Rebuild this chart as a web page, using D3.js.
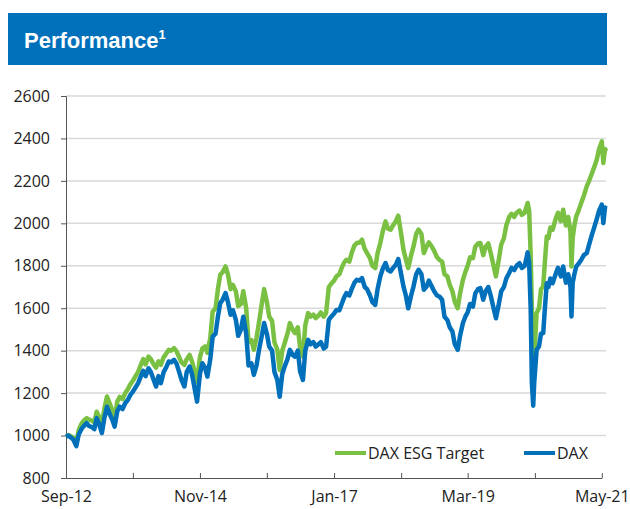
<!DOCTYPE html>
<html><head><meta charset="utf-8">
<script src="https://cdn.jsdelivr.net/npm/d3@7"></script>
<style>html,body{margin:0;padding:0;background:#fff;}svg{display:block;}</style>
</head><body>
<svg id="c" width="630" height="509"></svg>
<script>
const dates = ["2012-09-01","2012-09-15","2012-10-01","2012-10-15","2012-11-01","2012-11-15","2012-12-01","2012-12-15",
"2013-01-01","2013-01-15","2013-02-01","2013-02-15","2013-03-01","2013-03-15","2013-04-01","2013-04-15","2013-05-01","2013-05-15","2013-06-01","2013-06-15","2013-07-01","2013-07-15","2013-08-01","2013-08-15","2013-09-01","2013-09-15","2013-10-01","2013-10-15","2013-11-01","2013-11-15","2013-12-01","2013-12-15",
"2014-01-01","2014-01-15","2014-02-01","2014-02-15","2014-03-01","2014-03-15","2014-04-01","2014-04-15","2014-05-01","2014-05-15","2014-06-01","2014-06-15","2014-07-01","2014-07-15","2014-08-01","2014-08-15","2014-09-01","2014-09-15","2014-10-01","2014-10-15","2014-11-01","2014-11-15","2014-12-01","2014-12-15",
"2015-01-01","2015-01-15","2015-02-01","2015-02-15","2015-03-01","2015-03-15","2015-04-01","2015-04-15","2015-05-01","2015-05-15","2015-06-01","2015-06-15","2015-07-01","2015-07-15","2015-08-01","2015-08-15","2015-09-01","2015-09-15","2015-10-01","2015-10-15","2015-11-01","2015-11-15","2015-12-01","2015-12-15",
"2016-01-01","2016-01-15","2016-02-01","2016-02-15","2016-03-01","2016-03-15","2016-04-01","2016-04-15","2016-05-01","2016-05-15","2016-06-01","2016-06-15","2016-07-01","2016-07-15","2016-08-01","2016-08-15","2016-09-01","2016-09-15","2016-10-01","2016-10-15","2016-11-01","2016-11-15","2016-12-01","2016-12-15",
"2017-01-01","2017-01-15","2017-02-01","2017-02-15","2017-03-01","2017-03-15","2017-04-01","2017-04-15","2017-05-01","2017-05-15","2017-06-01","2017-06-15","2017-07-01","2017-07-15","2017-08-01","2017-08-15","2017-09-01","2017-09-15","2017-10-01","2017-10-15","2017-11-01","2017-11-15","2017-12-01","2017-12-15",
"2018-01-01","2018-01-15","2018-02-01","2018-02-15","2018-03-01","2018-03-15","2018-04-01","2018-04-15","2018-05-01","2018-05-15","2018-06-01","2018-06-15","2018-07-01","2018-07-15","2018-08-01","2018-08-15","2018-09-01","2018-09-15","2018-10-01","2018-10-15","2018-11-01","2018-11-15","2018-12-01","2018-12-15",
"2019-01-01","2019-01-15","2019-02-01","2019-02-15","2019-03-01","2019-03-15","2019-04-01","2019-04-15","2019-05-01","2019-05-15","2019-06-01","2019-06-15","2019-07-01","2019-07-15","2019-08-01","2019-08-15","2019-09-01","2019-09-15","2019-10-01","2019-10-15","2019-11-01","2019-11-15","2019-12-01","2019-12-15",
"2020-01-01","2020-01-15","2020-02-01","2020-02-18","2020-02-27","2020-03-07","2020-03-14","2020-03-22","2020-03-28","2020-04-11","2020-04-25","2020-05-07","2020-05-20","2020-05-30","2020-06-10","2020-06-20","2020-07-01","2020-07-15","2020-08-01","2020-08-15","2020-09-01","2020-09-15","2020-10-01","2020-10-15","2020-10-28","2020-11-03","2020-11-10","2020-11-20","2020-12-01","2020-12-15",
"2021-01-01","2021-01-15","2021-02-01","2021-02-15","2021-03-01","2021-03-15","2021-04-01","2021-04-15","2021-05-01","2021-05-10","2021-05-20","2021-05-28"];

const dax = [995,1000,990,980,950,1005,1030,1045,
1058,1045,1040,1030,1082,1055,1012,1080,1136,1105,1075,1042,1115,1136,1125,1150,1168,1190,1207,1225,1247,1275,1305,1280,
1317,1300,1262,1231,1280,1247,1300,1320,1349,1345,1357,1340,1300,1262,1231,1300,1325,1290,1220,1160,1290,1341,1320,1278,
1360,1466,1480,1560,1624,1640,1671,1630,1569,1590,1545,1470,1500,1560,1480,1330,1340,1286,1330,1400,1470,1530,1480,1419,
1400,1300,1262,1183,1290,1325,1360,1404,1380,1372,1400,1300,1262,1400,1451,1430,1440,1419,1430,1440,1410,1419,1545,1560,
1575,1592,1590,1620,1650,1671,1660,1690,1720,1734,1730,1742,1700,1690,1660,1630,1616,1690,1750,1785,1813,1780,1773,1790,
1805,1832,1760,1702,1660,1600,1660,1702,1760,1781,1760,1687,1702,1730,1702,1680,1660,1655,1640,1560,1545,1510,1490,1430,
1404,1470,1530,1560,1580,1620,1608,1670,1690,1695,1640,1680,1700,1660,1600,1553,1620,1680,1700,1740,1766,1790,1780,1800,
1812,1790,1800,1863,1812,1600,1250,1141,1250,1404,1420,1480,1483,1600,1718,1700,1740,1718,1760,1790,1750,1797,1720,1760,1700,1561,1720,1760,1797,1810,
1830,1850,1860,1900,1940,1975,2020,2060,2088,2001,2075,2070];

const esgTarget = [995,1002,996,990,965,1025,1055,1070,
1082,1075,1070,1062,1112,1090,1052,1125,1184,1155,1120,1085,1160,1182,1172,1198,1218,1240,1258,1278,1300,1330,1360,1335,
1372,1360,1335,1320,1350,1333,1370,1385,1404,1400,1412,1398,1370,1345,1333,1360,1380,1350,1300,1254,1370,1410,1420,1390,
1460,1584,1600,1690,1758,1770,1797,1760,1690,1710,1679,1610,1620,1680,1600,1440,1450,1404,1460,1530,1620,1690,1630,1561,
1540,1440,1404,1309,1400,1435,1480,1530,1500,1483,1510,1410,1372,1520,1577,1560,1570,1553,1565,1580,1560,1577,1700,1715,
1730,1750,1760,1790,1815,1828,1820,1860,1895,1907,1910,1923,1880,1860,1836,1800,1789,1860,1907,1960,2009,1975,1970,1990,
2010,2036,1950,1875,1830,1789,1850,1891,1950,1970,1950,1860,1890,1910,1891,1870,1840,1828,1820,1760,1750,1710,1680,1630,
1600,1670,1734,1770,1800,1840,1836,1890,1905,1907,1850,1890,1905,1860,1800,1750,1830,1900,1930,1990,2030,2045,2030,2050,
2060,2040,2050,2096,2060,1850,1600,1380,1366,1577,1600,1690,1702,1820,1938,1930,1980,1970,2020,2050,2010,2064,1990,2030,1960,1797,1930,1990,2033,2060,
2100,2130,2174,2200,2230,2260,2300,2350,2386,2284,2350,2340];

const yTicks = [800,1000,1200,1400,1600,1800,2000,2200,2400,2600];
const seriesNames = ["DAX ESG Target","DAX"];
const seriesColors = ["#7AC143","#0070BA"];
const titleText = "Performance";
const titleSup = "1";

const parse = d3.timeParse("%Y-%m-%d");
const pts = dates.map((d,i)=>({date:parse(d), dax:dax[i], esg:esgTarget[i]}));

const svg = d3.select("#c");
const start = parse("2012-09-01"), end = parse("2021-05-01");
const x = d3.scaleTime().domain([start,end]).range([66,601.8]);
const y = d3.scaleLinear().domain([800,2600]).range([478,96]);
const gridRight = 606;
const FONT = "'Open Sans', sans-serif";
const FS = 16;

// title bar
svg.append("rect").attr("x",8).attr("y",13).attr("width",599).attr("height",52).attr("fill","#0070BA");
const t = svg.append("text").attr("x",24).attr("y",48).attr("fill","#fff")
  .attr("font-family","'Liberation Sans', Arial, sans-serif").attr("font-weight","bold").attr("font-size",22);
t.append("tspan").text(titleText);
t.append("tspan").attr("font-size",13).attr("dy",-9).text(titleSup);

// gridlines
svg.append("g").selectAll("line").data(yTicks.filter(v=>v>800)).join("line")
  .attr("x1",66).attr("x2",gridRight).attr("y1",d=>y(d)).attr("y2",d=>y(d))
  .attr("stroke","#d9d9d9").attr("stroke-width",1.5);

// y axis
const yAxis = d3.axisLeft(y).tickValues(yTicks).tickSize(5).tickPadding(11).tickFormat(d3.format("d"));
const gy = svg.append("g").attr("transform","translate(66,0)").call(yAxis);
gy.select(".domain").attr("stroke","#555");
gy.selectAll(".tick line").attr("stroke","#555");
gy.selectAll("text").attr("font-family",FONT).attr("font-size",FS).attr("fill","#222");

// x axis
const xTicks = d3.range(9).map(i=>d3.timeMonth.offset(start,13*i));
const fmt = d3.timeFormat("%b-%y");
const xAxis = d3.axisBottom(x).tickValues(xTicks).tickSizeInner(-5).tickSizeOuter(0).tickPadding(13)
  .tickFormat((d,i)=> i%2===0 ? fmt(d) : "");
const gx = svg.append("g").attr("transform","translate(0,478)").call(xAxis);
gx.select(".domain").attr("stroke","#555");
gx.selectAll(".tick line").attr("stroke","#555");
gx.selectAll("text").attr("font-family",FONT).attr("font-size",FS).attr("fill","#222");

// lines
const lineG = d3.line().x(d=>x(d.date)).y(d=>y(d.esg));
const lineB = d3.line().x(d=>x(d.date)).y(d=>y(d.dax));
svg.append("path").datum(pts).attr("d",lineG).attr("fill","none").attr("stroke",seriesColors[0]).attr("stroke-width",4.5).attr("stroke-linejoin","round");
svg.append("path").datum(pts).attr("d",lineB).attr("fill","none").attr("stroke",seriesColors[1]).attr("stroke-width",4.5).attr("stroke-linejoin","round");

// legend
const legX = [335, 524];
seriesNames.forEach((n,i)=>{
  svg.append("line").attr("x1",legX[i]).attr("x2",legX[i]+31).attr("y1",453).attr("y2",453)
    .attr("stroke",seriesColors[i]).attr("stroke-width",4);
  svg.append("text").attr("x",legX[i]+33).attr("y",459).text(n)
    .attr("font-family",FONT).attr("font-size",FS).attr("fill","#222");
});
</script>
</body></html>
